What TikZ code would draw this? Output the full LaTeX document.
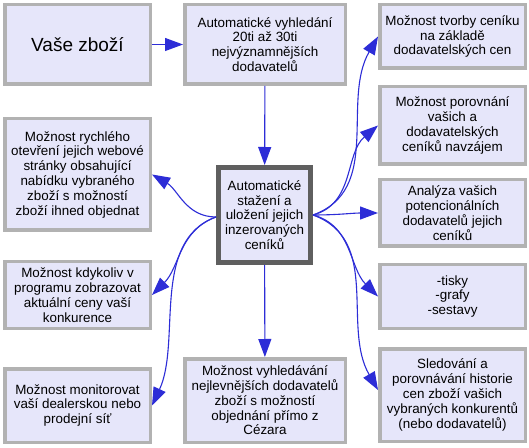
\documentclass[tikz,border=0pt]{standalone}
\usepackage{fontspec}
\setmainfont{Liberation Sans}
\usetikzlibrary{arrows.meta,positioning}
\definecolor{boxfill}{RGB}{230,230,250}
\definecolor{boxline}{RGB}{178,178,178}
\definecolor{hubline}{RGB}{95,95,95}
\definecolor{arrowblue}{RGB}{45,45,215}

\begin{document}
\begin{tikzpicture}[x=1pt,y=1pt,
  every node/.style={font=\fontsize{13.4}{14.8}\selectfont},
  box/.style={draw=boxline,line width=3.5pt,fill=boxfill,align=center,inner sep=1pt},
  hub/.style={draw=hubline,line width=5pt,fill=boxfill,align=center,inner sep=1pt},
  link/.style={draw=arrowblue,line width=1.1pt,-{Triangle[length=18pt,width=13pt,fill=arrowblue]}}]
  \useasboundingbox[fill=white] (0,0) rectangle (529,447);
  % upper row
  \node[box,minimum width=145.5pt,minimum height=79.5pt,font=\fontsize{19}{22}\selectfont] (zbozi) at (77.5,402.5) {Vaše zboží};
  \node[box,minimum width=160.5pt,minimum height=79.5pt] (hledani) at (265,402.5) {Automatické vyhledání\\20ti až 30ti\\nejvýznamnějších\\dodavatelů};
  % centre
  \node[hub,minimum width=92pt,minimum height=95pt] (stazeni) at (264.5,232) {Automatické\\stažení a\\uložení jejich\\inzerovaných\\ceníků};
  \node[box,minimum width=160.5pt,minimum height=83.5pt] (levne) at (265,46.5) {Možnost vyhledávání\\nejlevnějších dodavatelů\\zboží s možností\\objednání přímo z\\Cézara};
  % left column
  \node[box,minimum width=145.5pt,minimum height=111.5pt] (rychly) at (77.5,272.5) {Možnost rychlého\\otevření jejich webové\\stránky obsahující\\nabídku vybraného\\zboží s možností\\zboží ihned objednat};
  \node[box,minimum width=145.5pt,minimum height=66.5pt] (kdykoliv) at (77.5,152) {Možnost kdykoliv v\\programu zobrazovat\\aktuální ceny vaší\\konkurence};
  \node[box,minimum width=145.5pt,minimum height=73.5pt] (monitor) at (77.5,41.5) {Možnost monitorovat\\vaší dealerskou nebo\\prodejní síť};
  % right column
  \node[box,minimum width=145.5pt,minimum height=63.5pt] (tvorba) at (452.5,410.5) {Možnost tvorby ceníku\\na základě\\dodavatelských cen};
  \node[box,minimum width=145.5pt,minimum height=77.5pt] (porovnani) at (452.5,321.5) {Možnost porovnání\\vašich a\\dodavatelských\\ceníků navzájem};
  \node[box,minimum width=145.5pt,minimum height=66.5pt] (analyza) at (452.5,234) {Analýza vašich\\potencionálních\\dodavatelů jejich\\ceníků};
  \node[box,minimum width=145.5pt,minimum height=63.5pt] (tisky) at (452.5,150.5) {-tisky\\-grafy\\-sestavy};
  \node[box,minimum width=145.5pt,minimum height=92.5pt] (historie) at (452.5,52) {Sledování a\\porovnávání historie\\cen zboží vašich\\vybraných konkurentů\\(nebo dodavatelů)};
  % straight links
  \draw[link] (zbozi) -- (hledani);
  \draw[link] (hledani) -- (stazeni);
  \draw[link] (stazeni) -- (levne);
  % curved links
  \draw[link] ([yshift=-2pt]stazeni.west) to[out=180,in=-30] (rychly.east);
  \draw[link] ([yshift=-2pt]stazeni.west) to[out=200,in=45] (kdykoliv.east);
  \draw[link] ([yshift=-2pt]stazeni.west) to[out=200,in=65,looseness=0.9] (monitor.east);
  \draw[link] (stazeni.east) to[out=20,in=240] (tvorba.west);
  \draw[link] (stazeni.east) to[out=15,in=220] (porovnani.west);
  \draw[link] (stazeni.east) to[out=0,in=180] (analyza.west);
  \draw[link] (stazeni.east) to[out=-15,in=135] (tisky.west);
  \draw[link] (stazeni.east) to[out=-20,in=120] ([yshift=5pt]historie.west);
\end{tikzpicture}
\end{document}
